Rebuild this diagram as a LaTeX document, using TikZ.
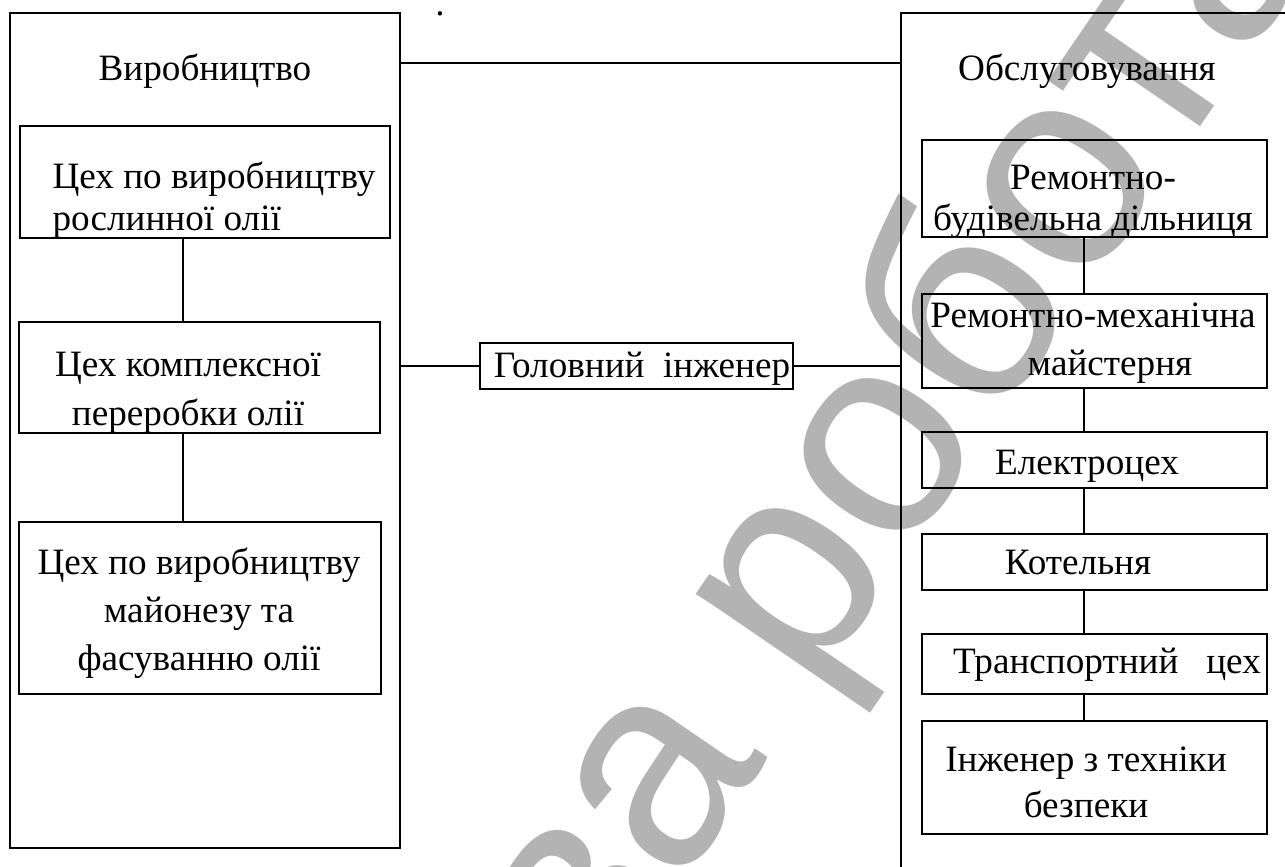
\documentclass[tikz,border=0pt]{standalone}
\usepackage{fontspec}
\setmainfont{Liberation Serif}
\newfontfamily\wmfont{Liberation Sans}
\usetikzlibrary{fit}
\definecolor{wmgray}{HTML}{B3B3B3}

\begin{document}
\begin{tikzpicture}[x=0.3765pt, y=-0.3765pt,
  dept/.style={draw, line width=0.75pt, inner sep=0pt},
  shop/.style={draw, fill=none, line width=0.75pt, inner sep=0pt},
  txt/.style={font=\fontsize{14}{#1}\selectfont, inner sep=0pt, align=center},
  txt/.default=17.8,
  link/.style={line width=0.75pt},
  wm/.style={font=\wmfont\fontsize{108}{108}\selectfont, text=wmgray, inner sep=0pt, rotate=55.6}]

\useasboundingbox[fill=white] (0,0) rectangle (1285,866);
\clip (0,0) rectangle (1285,866);

\node[wm, anchor=base east] (wm1) at (769,757) {Готова};
\node[wm, anchor=base west] (wm2) at (810,696) {робота};

\node[dept, fit={(10,13) (400,848)}] (vyrob) {};
\node[dept, fit={(901,13) (1300,880)}] (obsl) {};
\node[txt, anchor=base] (vyrobt) at (205,80) {Виробництво};
\node[txt, anchor=base] (obslt) at (1087,80) {Обслуговування};
\node[txt, anchor=base] (dot) at (440,15) {.};

\node[shop, fit={(20,126) (390,238)}] (l1) {};
\node[txt=15.8, anchor=base west, align=left] (l1t) at (52,230)
  {Цех по виробництву\\рослинної олії};
\node[shop, fit={(19,322) (380,433)}] (l2) {};
\node[txt=18.1, anchor=base] (l2t) at (188,425)
  {Цех комплексної\\переробки олії};
\node[shop, fit={(19,522) (381,694)}] (l3) {};
\node[txt=17.9, anchor=base] (l3t) at (199,670)
  {Цех по виробництву\\майонезу та\\фасуванню олії};

\node[shop, fit={(480,343) (793,389)}] (head) {};
\node[txt, anchor=base] (headt) at (642,377) {Головний\ \ інженер};

\node[shop, fit={(922,140) (1267,237)}] (r1) {};
\node[txt=15.1, anchor=base] (r1t) at (1093,230)
  {Ремонтно-\\будівельна дільниця};
\node[shop, fit={(922,294) (1267,388)}] (r2) {};
\node[txt=17.7, anchor=base] (r2t) at (1093,375)
  {Ремонтно-механічна\\\hspace*{12.8pt}майстерня};
\node[shop, fit={(922,432) (1267,488)}] (r3) {};
\node[txt, anchor=base] (r3t) at (1087,474) {Електроцех};
\node[shop, fit={(922,534) (1267,590)}] (r4) {};
\node[txt, anchor=base] (r4t) at (1078,574) {Котельня};
\node[shop, fit={(922,634) (1267,694)}] (r5) {};
\node[txt, anchor=base] (r5t) at (1107,673) {Транспортний\ \ \ цех};
\node[shop, fit={(922,721) (1267,834)}] (r6) {};
\node[txt=17.3, anchor=base] (r6t) at (1086,817)
  {Інженер з техніки\\безпеки};

\coordinate (cl) at (183,0);
\coordinate (cr) at (1084,0);
\coordinate (ctop) at (0,63);

\draw[link] (vyrob.east |- ctop) -- (obsl.west |- ctop);
\draw[link] (vyrob.east |- head) -- (head.west); \draw[link] (head.east) -- (obsl.west |- head);
\draw[link] (l1.south -| cl) -- (l2.north -| cl); \draw[link] (l2.south -| cl) -- (l3.north -| cl);
\draw[link] (r1.south -| cr) -- (r2.north -| cr); \draw[link] (r2.south -| cr) -- (r3.north -| cr);
\draw[link] (r3.south -| cr) -- (r4.north -| cr); \draw[link] (r4.south -| cr) -- (r5.north -| cr);
\draw[link] (r5.south -| cr) -- (r6.north -| cr);
\end{tikzpicture}
\end{document}
